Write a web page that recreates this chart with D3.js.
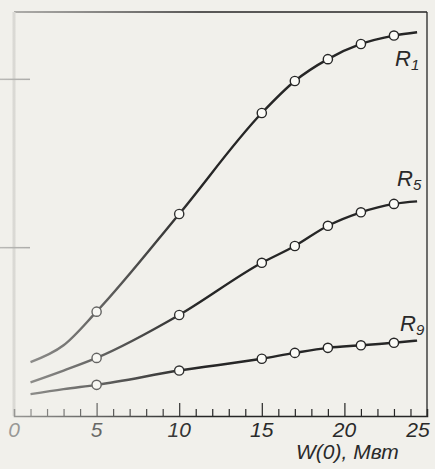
<!DOCTYPE html>
<html>
<head>
<meta charset="utf-8">
<script src="https://cdn.jsdelivr.net/npm/d3@7"></script>
<style>
  body { margin: 0; background: #f1f0eb; }
  text { font-family: "Liberation Sans Narrow", "Liberation Sans", sans-serif; font-style: italic; fill: #2a2a2a; }
</style>
</head>
<body>
<script>
// W(0) values along the curves, and which of them carry a marker
let curveW = [1, 3, 5, 10, 15, 17, 19, 21, 23, 24.4];
let marked = [false, false, true, true, true, true, true, true, true, false];

// curve values (relative units, no y labels in the source)
let r1 = [0.32, 0.42, 0.62, 1.20, 1.80, 1.99, 2.12, 2.21, 2.26, 2.28];
let r5 = [0.20, 0.27, 0.345, 0.60, 0.91, 1.01, 1.13, 1.21, 1.26, 1.275];
let r9 = [0.13, 0.16, 0.185, 0.27, 0.34, 0.375, 0.405, 0.42, 0.435, 0.448];

let seriesNames = ["1", "5", "9"];
let seriesValues = [r1, r5, r9];

let xTickLabels = [0, 5, 10, 15, 20, 25];
let yTicks = [1, 2];

let width = 435, height = 469;
let mLeft = 14, mRight = 427, mTop = 12, mBottom = 416;

let svg = d3.select("body").append("svg")
  .attr("width", width)
  .attr("height", height);

let x = d3.scaleLinear().domain([0, 25]).range([mLeft, mRight]);
let y = d3.scaleLinear().domain([0, 2.4]).range([mBottom, mTop]);

let ink = "#262626";

// frame
svg.append("line").attr("x1", mLeft).attr("x2", mRight).attr("y1", mTop).attr("y2", mTop)
  .attr("stroke", ink).attr("stroke-width", 1.5);
svg.append("line").attr("x1", mRight).attr("x2", mRight).attr("y1", mTop).attr("y2", mBottom)
  .attr("stroke", ink).attr("stroke-width", 1.3);
svg.append("line").attr("x1", mLeft).attr("x2", mLeft).attr("y1", mTop).attr("y2", mBottom)
  .attr("stroke", "#bdbcb8").attr("stroke-width", 3);

// x axis, ticks point up into the plot
let xAxis = d3.axisTop(x)
  .tickValues(d3.range(1, 25))
  .tickSize(7)
  .tickFormat("");
let gx = svg.append("g")
  .attr("transform", "translate(0," + mBottom + ")")
  .call(xAxis);
gx.select(".domain").attr("stroke", ink).attr("stroke-width", 1.5);
gx.selectAll(".tick line")
  .attr("stroke", ink)
  .attr("stroke-width", 1.2)
  .attr("y2", function(d) { return d % 5 === 0 ? -13 : -7; });

svg.selectAll(".xlab")
  .data(xTickLabels)
  .enter()
  .append("text")
  .attr("class", "xlab")
  .attr("x", function(d) { return d === 25 ? x(d) - 9 : x(d); })
  .attr("y", 437)
  .attr("text-anchor", "middle")
  .attr("font-size", 21)
  .text(function(d) { return d; });

// y ticks (labels are lost in the source)
svg.selectAll(".ytick")
  .data(yTicks)
  .enter()
  .append("line")
  .attr("class", "ytick")
  .attr("x1", 0)
  .attr("x2", mLeft + 16)
  .attr("y1", function(d) { return y(d); })
  .attr("y2", function(d) { return y(d); })
  .attr("stroke", "#666")
  .attr("stroke-width", 1.5);

// curves
let line = d3.line()
  .x(function(d) { return x(d[0]); })
  .y(function(d) { return y(d[1]); })
  .curve(d3.curveMonotoneX);

seriesValues.forEach(function(vals) {
  let pts = curveW.map(function(w, i) { return [w, vals[i]]; });
  svg.append("path")
    .datum(pts)
    .attr("fill", "none")
    .attr("stroke", ink)
    .attr("stroke-width", 2.4)
    .attr("d", line);

  svg.selectAll(null)
    .data(pts.filter(function(d, i) { return marked[i]; }))
    .enter()
    .append("circle")
    .attr("cx", function(d) { return x(d[0]); })
    .attr("cy", function(d) { return y(d[1]); })
    .attr("r", 4.6)
    .attr("fill", "#fbfbf7")
    .attr("stroke", ink)
    .attr("stroke-width", 1.4);
});

// curve names
let labelPos = [[395, 66], [397, 186], [400, 331]];
seriesNames.forEach(function(n, i) {
  let t = svg.append("text")
    .attr("x", labelPos[i][0])
    .attr("y", labelPos[i][1])
    .attr("font-size", 22)
    .text("R");
  t.append("tspan")
    .attr("dy", 4)
    .attr("font-size", 15)
    .text(n);
});

// axis title
svg.append("text")
  .attr("x", 296)
  .attr("y", 459)
  .attr("font-size", 21)
  .text("W(0),  Мвт");

// faded left part of the scan
let defs = svg.append("defs");
let grad = defs.append("linearGradient")
  .attr("id", "fade")
  .attr("x1", "0%").attr("x2", "100%").attr("y1", "0%").attr("y2", "0%");
grad.append("stop").attr("offset", "0%").attr("stop-color", "#f1f0eb").attr("stop-opacity", 0.6);
grad.append("stop").attr("offset", "100%").attr("stop-color", "#f1f0eb").attr("stop-opacity", 0);
svg.append("rect")
  .attr("x", 0).attr("y", 0)
  .attr("width", 200).attr("height", height)
  .attr("fill", "url(#fade)");
</script>
</body>
</html>
